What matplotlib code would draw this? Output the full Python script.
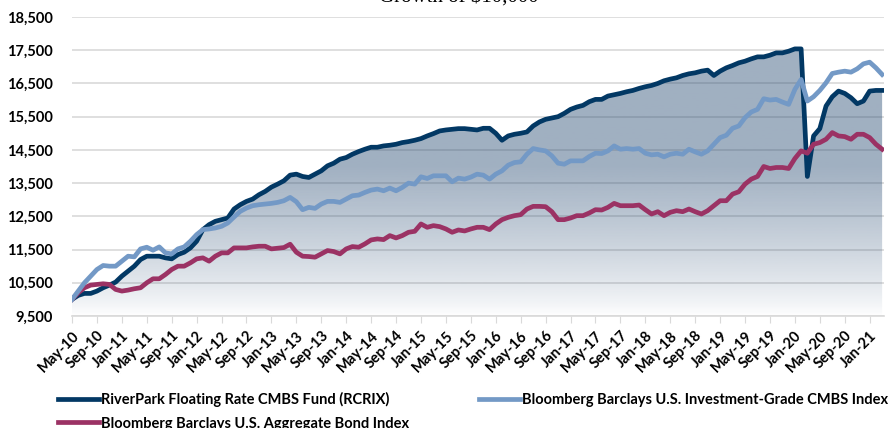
import numpy as np
import matplotlib.pyplot as plt
from matplotlib.patches import PathPatch

plt.rcParams['font.family'] = ['Lato', 'DejaVu Sans']
plt.rcParams['font.weight'] = 'bold'

# monthly values, May-10 .. Mar-21 (growth of $10,000)
rcrix = [10000, 10120, 10180, 10180, 10250, 10350, 10430, 10520, 10700, 10850,
         11000, 11200, 11300, 11300, 11300, 11250, 11220, 11350, 11420, 11550,
         11750, 12100, 12250, 12350, 12400, 12450, 12720, 12850, 12950, 13020,
         13150, 13250, 13380, 13470, 13570, 13740, 13770, 13700, 13670, 13770,
         13870, 14020, 14100, 14220, 14270, 14370, 14450, 14520, 14580, 14580,
         14620, 14640, 14670, 14720, 14750, 14790, 14840, 14920, 14990, 15070,
         15100, 15120, 15140, 15140, 15120, 15100, 15150, 15150, 15000, 14790,
         14920, 14970, 15000, 15040, 15220, 15340, 15420, 15460, 15500, 15600,
         15720, 15790, 15840, 15950, 16020, 16020, 16120, 16160, 16200, 16250,
         16290, 16350, 16400, 16440, 16500, 16580, 16630, 16670, 16740, 16790,
         16820, 16870, 16900, 16740, 16870, 16970, 17040, 17120, 17170, 17240,
         17300, 17300, 17350, 17420, 17420, 17470, 17540, 17540, 13700, 14920,
         15140, 15820, 16100, 16270, 16200, 16070, 15890, 15970, 16270, 16290,
         16290]
cmbs = [10000, 10250, 10500, 10700, 10900, 11020, 11000, 11000, 11150, 11300,
        11280, 11520, 11570, 11480, 11580, 11400, 11370, 11520, 11580, 11750,
        11950, 12100, 12120, 12150, 12200, 12300, 12480, 12650, 12750, 12820,
        12850, 12870, 12890, 12920, 12970, 13070, 12940, 12700, 12770, 12740,
        12870, 12950, 12950, 12920, 13020, 13120, 13140, 13220, 13290, 13320,
        13270, 13350, 13270, 13370, 13500, 13470, 13690, 13640, 13720, 13720,
        13720, 13540, 13650, 13620, 13680, 13770, 13740, 13620, 13770, 13870,
        14040, 14120, 14140, 14370, 14540, 14500, 14470, 14320, 14100, 14070,
        14170, 14170, 14170, 14300, 14400, 14390, 14470, 14620, 14520, 14540,
        14520, 14540, 14400, 14350, 14370, 14290, 14370, 14400, 14370, 14520,
        14440, 14370, 14470, 14670, 14870, 14940, 15150, 15220, 15470, 15640,
        15720, 16040, 16000, 16020, 15940, 15870, 16320, 16620, 15970, 16100,
        16290, 16520, 16800, 16840, 16870, 16840, 16940, 17090, 17140, 16970,
        16770]
agg = [10000, 10200, 10350, 10430, 10450, 10470, 10450, 10300, 10250, 10280,
       10320, 10350, 10500, 10620, 10620, 10750, 10900, 11000, 11000, 11100,
       11220, 11250, 11150, 11300, 11400, 11400, 11550, 11550, 11550, 11580,
       11600, 11600, 11520, 11540, 11560, 11660, 11420, 11300, 11290, 11270,
       11370, 11470, 11440, 11370, 11520, 11590, 11570, 11670, 11790, 11820,
       11800, 11920, 11850, 11920, 12020, 12050, 12270, 12170, 12220, 12190,
       12120, 12020, 12090, 12060, 12120, 12170, 12170, 12100, 12270, 12400,
       12470, 12520, 12550, 12720, 12800, 12800, 12790, 12640, 12400, 12400,
       12450, 12520, 12520, 12600, 12700, 12690, 12770, 12890, 12820, 12820,
       12820, 12840, 12700, 12570, 12640, 12520, 12620, 12670, 12640, 12720,
       12640, 12570, 12670, 12820, 12970, 12970, 13170, 13240, 13470, 13620,
       13700, 14000, 13940, 13970, 13970, 13940, 14240, 14470, 14400, 14670,
       14720, 14820, 15020, 14920, 14900, 14820, 14970, 14970, 14870, 14670,
       14520]

mon = ['Jan', 'Feb', 'Mar', 'Apr', 'May', 'Jun', 'Jul', 'Aug', 'Sep', 'Oct', 'Nov', 'Dec']
dates = ['%s-%02d' % (mon[(4 + i) % 12], (10 + (4 + i) // 12) % 100) for i in range(len(rcrix))]
x = np.arange(len(rcrix))

navy = '#023864'
light = '#7399c6'
berry = '#9b3264'

fig = plt.figure(figsize=(8.95, 4.28), dpi=100)
ax = fig.add_axes([72 / 895, 1 - 316 / 428, (884 - 72) / 895, (316 - 17) / 428])

# gradient fill under the fund line
poly = ax.fill_between(x, rcrix, 9500, facecolor='none', edgecolor='none')
vals = np.linspace(9500, 18500, 400)
alpha = 0.44 * np.clip((vals - 9500) / 4500, 0, 1) ** 0.8
img = np.zeros((len(vals), 1, 4))
img[:, 0, :3] = np.array([40, 75, 115]) / 255
img[:, 0, 3] = alpha
im = ax.imshow(img, extent=[0, x[-1], 9500, 18500], origin='lower', aspect='auto', zorder=1)
patch = PathPatch(poly.get_paths()[0], transform=ax.transData, facecolor='none', edgecolor='none')
ax.add_patch(patch)
im.set_clip_path(patch)

ax.plot(x, rcrix, color=navy, lw=3.4, zorder=3, solid_joinstyle='round',
        label='RiverPark Floating Rate CMBS Fund (RCRIX)')
ax.plot(x, agg, color=berry, lw=3.4, zorder=4, solid_joinstyle='round',
        label='Bloomberg Barclays U.S. Aggregate Bond Index')
ax.plot(x, cmbs, color=light, lw=3.4, zorder=5, solid_joinstyle='round',
        label='Bloomberg Barclays U.S. Investment-Grade CMBS Index')

ax.set_xlim(0, x[-1] + 0.3)
ax.set_ylim(9500, 18500)
ax.set_yticks(np.arange(9500, 18501, 1000))
ax.set_yticklabels(['{:,}'.format(v) for v in range(9500, 18501, 1000)])
ax.set_xticks(x[::4])
ax.set_xticklabels(dates[::4], rotation=45, ha='right', va='top', rotation_mode='anchor')
ax.tick_params(axis='y', length=0, pad=14, labelsize=10.5)
ax.tick_params(axis='x', length=5, color='#d9d9d9', pad=4, labelsize=10.5)
ax.grid(axis='y', color='#d9d9d9', lw=1.2)
ax.set_axisbelow(True)
for s in ['top', 'right', 'left']:
    ax.spines[s].set_visible(False)
ax.spines['bottom'].set_color('#d9d9d9')
ax.spines['bottom'].set_linewidth(1.2)

fig.text(0.513, 1.006, 'Growth of $10,000', ha='center', va='center', fontsize=15,
         family='Liberation Serif', weight='normal')

fig.legend(loc='upper left', bbox_to_anchor=(58 / 895, 1 - 392 / 428), ncol=2, frameon=False,
           fontsize=10.5, handlelength=2.8, handletextpad=0.15, columnspacing=4.8,
           labelspacing=0.65, borderpad=0, borderaxespad=0)

fig.savefig('out.png', dpi=100)
